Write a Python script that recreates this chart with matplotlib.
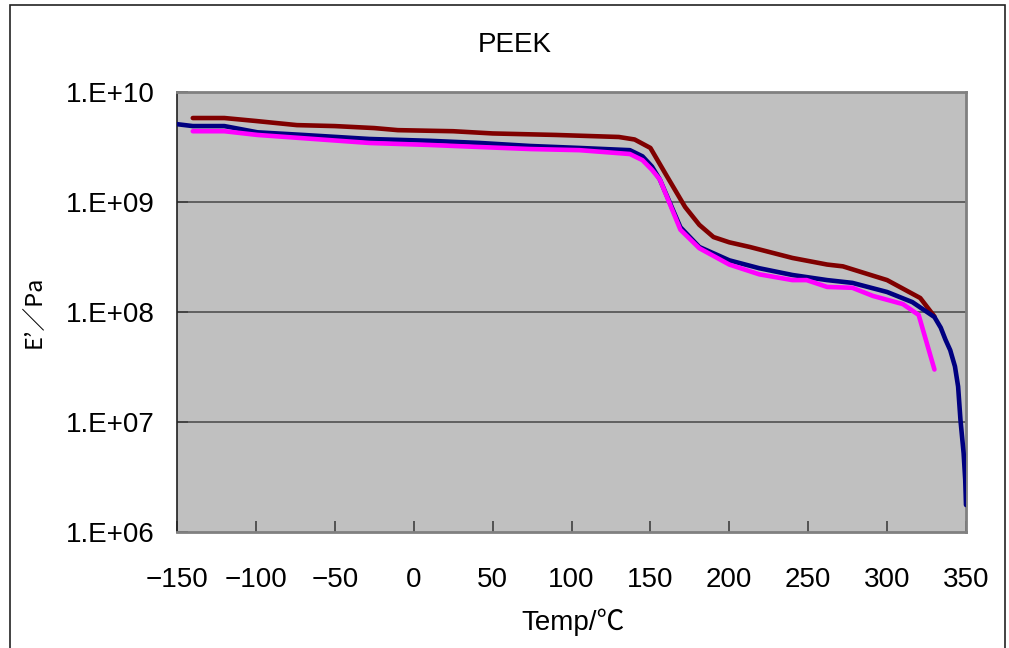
import matplotlib
matplotlib.use("Agg")
import matplotlib.pyplot as plt
from matplotlib.patches import Rectangle

plt.rcParams['font.family'] = ['Liberation Sans', 'Noto Sans CJK JP', 'DejaVu Sans']

# ---------------- data ----------------
title = "PEEK"
xlabel = "Temp/℃"
ylabel = "E’／Pa"

x_ticks = [-150, -100, -50, 0, 50, 100, 150, 200, 250, 300, 350]
x_tick_labels = ["\u2212150", "\u2212100", "\u221250", "0", "50", "100", "150", "200", "250", "300", "350"]
y_ticks = [1e6, 1e7, 1e8, 1e9, 1e10]
y_tick_labels = ["1.E+06", "1.E+07", "1.E+08", "1.E+09", "1.E+10"]

red_T = [-140, -120, -100, -74, -50, -25, -10, 25, 50, 90, 130, 140, 150, 160, 172,
         181, 190, 200, 213, 240, 262, 272, 300, 321, 330]
red_E = [5.8e9, 5.8e9, 5.45e9, 5.0e9, 4.9e9, 4.7e9, 4.5e9, 4.4e9, 4.2e9, 4.07e9, 3.9e9,
         3.7e9, 3.1e9, 1.76e9, 9.0e8, 6.2e8, 4.8e8, 4.3e8, 3.9e8, 3.1e8, 2.7e8, 2.6e8,
         1.95e8, 1.34e8, 9.1e7]

blue_T = [-150, -140, -120, -99, -70, -28, 10, 42, 74, 105, 137, 145, 151, 156, 169,
          181, 200, 219, 240, 262, 278, 300, 316, 330, 334, 337, 340, 343, 345, 346.5,
          348.5, 349.5, 350]
blue_E = [5.1e9, 4.9e9, 4.9e9, 4.3e9, 4.07e9, 3.74e9, 3.6e9, 3.44e9, 3.23e9, 3.1e9,
          2.96e9, 2.6e9, 2.1e9, 1.6e9, 5.9e8, 3.9e8, 2.95e8, 2.5e8, 2.17e8, 1.95e8,
          1.84e8, 1.52e8, 1.23e8, 9.0e7, 7.2e7, 5.6e7, 4.5e7, 3.2e7, 2.1e7, 1.04e7,
          5.2e6, 3.0e6, 1.76e6]

mag_T = [-140, -120, -99, -70, -28, 10, 42, 74, 105, 137, 145, 151, 156, 169, 181,
         200, 219, 240, 249, 262, 278, 291, 310, 320, 330]
mag_E = [4.4e9, 4.4e9, 4.07e9, 3.8e9, 3.44e9, 3.3e9, 3.16e9, 3.03e9, 2.96e9, 2.73e9,
         2.4e9, 1.96e9, 1.6e9, 5.6e8, 3.8e8, 2.7e8, 2.2e8, 1.95e8, 1.95e8, 1.69e8,
         1.66e8, 1.4e8, 1.18e8, 9.4e7, 3.0e7]

# ---------------- figure ----------------
W, H = 1009, 648
fig = plt.figure(figsize=(W / 100, H / 100), dpi=100)
fig.patch.set_facecolor('white')

# outer chart border
fig.patches.append(Rectangle((10 / W, -0.05), (1005 - 10) / W, 1.05 - 5 / H,
                             transform=fig.transFigure, fill=False,
                             edgecolor='#222222', linewidth=1.2))

ax = fig.add_axes([177 / W, 1 - 532 / H, (966 - 177) / W, (532 - 92) / H])
ax.set_facecolor('#C0C0C0')
ax.set_yscale('log')
ax.set_xlim(-150, 350)
ax.set_ylim(1e6, 1e10)

for v in [1e7, 1e8, 1e9]:
    ax.axhline(v, color='#505050', linewidth=1.2, zorder=1)

lw = 3.3
ax.plot(red_T, red_E, color='#800000', linewidth=lw, solid_capstyle='round', zorder=3)
ax.plot(blue_T, blue_E, color='#000080', linewidth=lw, solid_capstyle='round', zorder=4)
ax.plot(mag_T, mag_E, color='#FF00FF', linewidth=lw, solid_capstyle='round', zorder=5)

ax.set_xticks(x_ticks)
ax.set_xticklabels(x_tick_labels)
ax.set_yticks(y_ticks)
ax.set_yticklabels(y_tick_labels)
ax.minorticks_off()
ax.tick_params(axis='both', direction='in', length=8, width=1.2, colors='#404040',
               labelcolor='black', labelsize=20)
ax.tick_params(axis='x', pad=25)
ax.tick_params(axis='y', pad=16)

for side in ['top', 'right', 'bottom']:
    ax.spines[side].set_color('#808080')
    ax.spines[side].set_linewidth(2.0)
ax.spines['left'].set_color('#202020')
ax.spines['left'].set_linewidth(1.2)

fig.text(515 / W, 1 - 45 / H, title, fontsize=20, ha='center', va='center')
fig.text(573 / W, 1 - 622 / H, xlabel, fontsize=20, ha='center', va='center')
fig.text(35 / W, 1 - 312 / H, ylabel, fontsize=17, ha='center', va='center', rotation=90,
         family=['Noto Sans CJK JP', 'DejaVu Sans'])

fig.savefig('out.png', dpi=100)
